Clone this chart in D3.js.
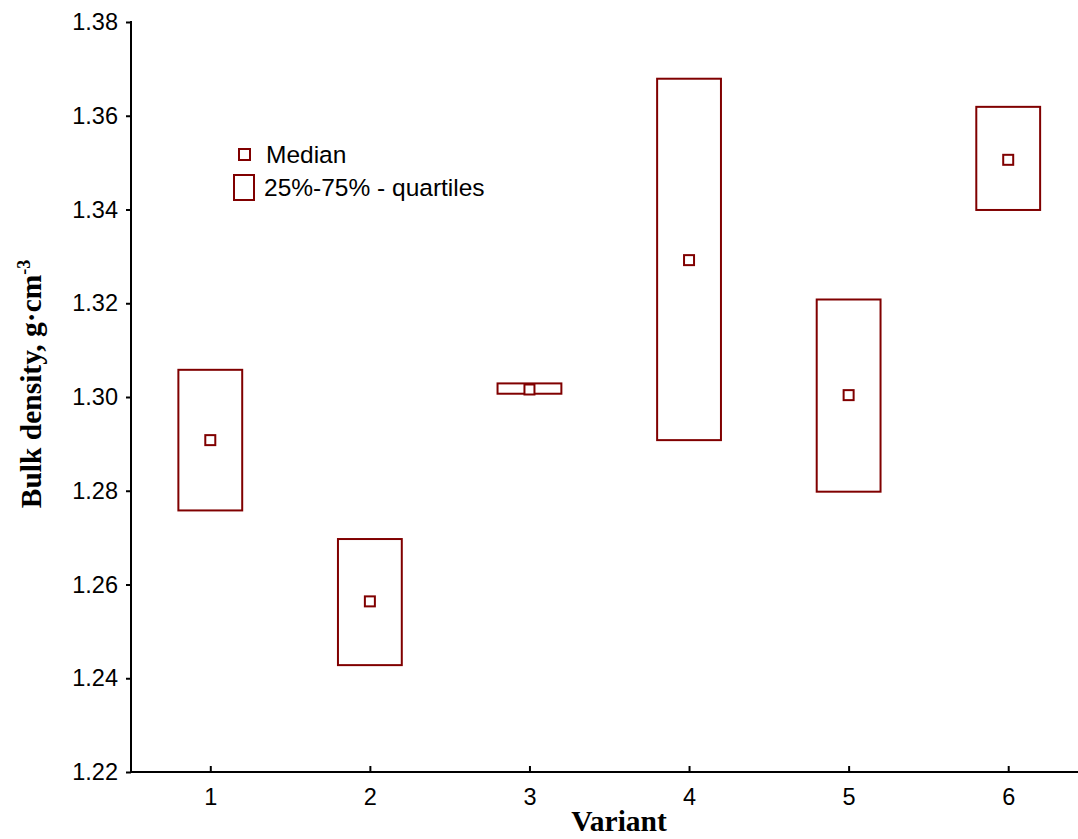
<!DOCTYPE html>
<html>
<head>
    <title>Bulk density by variant</title>
    <script src="https://d3js.org/d3.v7.min.js"></script>
    <style>
        body { margin: 0; background: #fff; }
        .tick text {
            font-family: "Liberation Sans", Arial, sans-serif;
            font-size: 23.5px;
            fill: #000;
        }
        .axis path, .axis line {
            stroke: #000;
            stroke-width: 2px;
        }
        .axis-title {
            font-family: "Liberation Serif", "Times New Roman", serif;
            font-weight: bold;
            font-size: 29.5px;
            fill: #000;
        }
        .legend-label {
            font-family: "Liberation Sans", Arial, sans-serif;
            font-size: 24.5px;
            fill: #000;
        }
    </style>
</head>
<body>
    <svg width="1078" height="839"></svg>

    <script>
        // Data
        const variants = [1, 2, 3, 4, 5, 6];
        const q1 = [1.2758, 1.2428, 1.3007, 1.2908, 1.2798, 1.3399];
        const q3 = [1.3058, 1.2697, 1.3029, 1.3679, 1.3208, 1.3619];
        const medians = [1.2908, 1.2564, 1.3016, 1.3292, 1.3004, 1.3506];
        const yTicks = [1.22, 1.24, 1.26, 1.28, 1.30, 1.32, 1.34, 1.36, 1.38];

        const color = "#800000";

        const svg = d3.select("svg");

        const x = d3.scaleLinear().domain([0.5, 6.5]).range([130.5, 1088]);
        const y = d3.scaleLinear().domain([1.22, 1.38]).range([772, 22]);

        // Y axis: outward ticks on the left
        svg.append("g")
            .attr("class", "axis")
            .attr("transform", "translate(131,0)")
            .call(d3.axisLeft(y).tickValues(yTicks).tickFormat(d3.format(".2f"))
                .tickSize(5).tickSizeOuter(0).tickPadding(8))
            .call(g => g.select(".domain").attr("d", `M0,${y(1.38) - 1}V${y(1.22) + 1}`));

        // X axis: inward ticks
        svg.append("g")
            .attr("class", "axis")
            .attr("transform", "translate(0,772)")
            .call(d3.axisBottom(x).tickValues(variants).tickFormat(d3.format("d"))
                .tickSize(-6).tickSizeOuter(0).tickPadding(16))
            .call(g => g.select(".domain").attr("d", "M130,0H1078"));

        // Quartile boxes
        const boxW = x(1.2) - x(0.8);
        svg.append("g")
            .selectAll("rect")
            .data(variants)
            .enter().append("rect")
            .attr("x", (d, i) => x(d) - boxW / 2)
            .attr("y", (d, i) => y(q3[i]))
            .attr("width", boxW)
            .attr("height", (d, i) => y(q1[i]) - y(q3[i]))
            .attr("fill", "none")
            .attr("stroke", color)
            .attr("stroke-width", 2);

        // Median markers
        const m = 10;
        svg.append("g")
            .selectAll("rect")
            .data(variants)
            .enter().append("rect")
            .attr("x", (d, i) => x(d) - m / 2)
            .attr("y", (d, i) => y(medians[i]) - m / 2)
            .attr("width", m)
            .attr("height", m)
            .attr("fill", "#fff")
            .attr("stroke", color)
            .attr("stroke-width", 2);

        // Legend
        const legend = svg.append("g");
        legend.append("rect")
            .attr("x", 239).attr("y", 149).attr("width", 11).attr("height", 11)
            .attr("fill", "none").attr("stroke", color).attr("stroke-width", 2);
        legend.append("text")
            .attr("class", "legend-label")
            .attr("x", 266).attr("y", 163)
            .text("Median");
        legend.append("rect")
            .attr("x", 234).attr("y", 175).attr("width", 20).attr("height", 25)
            .attr("fill", "none").attr("stroke", color).attr("stroke-width", 2);
        legend.append("text")
            .attr("class", "legend-label")
            .attr("x", 264).attr("y", 196)
            .text("25%-75% - quartiles");

        // Axis titles
        svg.append("text")
            .attr("class", "axis-title")
            .attr("x", 619)
            .attr("y", 831)
            .attr("text-anchor", "middle")
            .text("Variant");

        const yt = svg.append("text")
            .attr("class", "axis-title")
            .attr("transform", "translate(41,384) rotate(-90)")
            .attr("text-anchor", "middle");
        yt.append("tspan").text("Bulk density, g\u00B7cm");
        yt.append("tspan").attr("dy", -11).attr("font-size", 18).text("-3");
    </script>
</body>
</html>
